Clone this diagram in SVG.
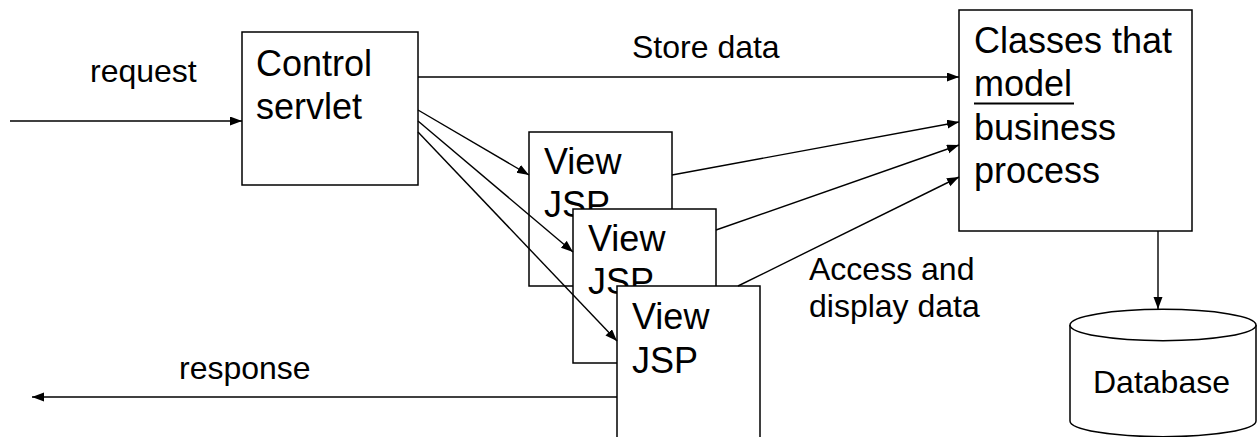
<svg xmlns="http://www.w3.org/2000/svg" width="1257" height="437" viewBox="0 0 1257 437">
  <style>
    .box { fill: #ffffff; stroke: #000000; stroke-width: 1.5; }
    .lbl { font-family: "Liberation Sans", Arial, sans-serif; fill: #000000; }
    .big { font-size: 36px; }
    .mid { font-size: 32px; }
    .wire { fill: none; stroke: #000000; stroke-width: 1.4; }
  </style>
  <defs>
    <marker id="arrow" markerUnits="userSpaceOnUse" markerWidth="13" markerHeight="10" refX="12" refY="4.5" orient="auto">
      <path d="M0,0 L12,4.5 L0,9 Z" fill="#000000"/>
    </marker>
  </defs>

  <rect width="1257" height="437" fill="#ffffff"/>

  <!-- free labels -->
  <g id="labels" class="lbl mid">
    <text x="90" y="82">request</text>
    <text x="632" y="58">Store data</text>
    <text x="809" y="280">Access and</text>
    <text x="809" y="317">display data</text>
    <text x="179" y="379">response</text>
  </g>

  <!-- control servlet -->
  <g id="control-servlet">
    <rect class="box" x="242" y="32" width="176" height="153"/>
    <text class="lbl big" x="256" y="76">Control</text>
    <text class="lbl big" x="256" y="119">servlet</text>
  </g>

  <!-- model classes -->
  <g id="model-classes">
    <rect class="box" x="959" y="10" width="233" height="221"/>
    <text class="lbl big" x="974" y="53">Classes that</text>
    <text class="lbl big" x="974" y="96">model</text>
    <line x1="974" y1="103.5" x2="1074" y2="103.5" stroke="#000000" stroke-width="2"/>
    <text class="lbl big" x="974" y="140">business</text>
    <text class="lbl big" x="974" y="183">process</text>
  </g>

  <!-- database -->
  <g id="database">
    <path class="box" d="M1070,325 L1070,421 A93,15.7 0 0 0 1256,421 L1256,325"/>
    <ellipse class="box" cx="1163" cy="325" rx="93" ry="15.7"/>
    <text class="lbl mid" x="1093" y="393">Database</text>
  </g>

  <!-- stacked view pages -->
  <g id="view-jsp-1">
    <rect class="box" x="529" y="132" width="143" height="154"/>
    <text class="lbl big" x="544" y="174">View</text>
    <text class="lbl big" x="544" y="217">JSP</text>
  </g>
  <g id="view-jsp-2">
    <rect class="box" x="573" y="209" width="143" height="154"/>
    <text class="lbl big" x="588" y="251">View</text>
    <text class="lbl big" x="588" y="294">JSP</text>
  </g>
  <g id="view-jsp-3">
    <rect class="box" x="617" y="286" width="143" height="160"/>
    <text class="lbl big" x="632" y="329">View</text>
    <text class="lbl big" x="632" y="373">JSP</text>
  </g>

  <!-- connectors -->
  <g id="connectors" class="wire">
    <line x1="10" y1="121" x2="242" y2="121" marker-end="url(#arrow)"/>
    <line x1="418" y1="77" x2="959" y2="77" marker-end="url(#arrow)"/>
    <line x1="418" y1="110" x2="529" y2="175" marker-end="url(#arrow)"/>
    <line x1="418" y1="121" x2="573" y2="252" marker-end="url(#arrow)"/>
    <line x1="418" y1="132" x2="617" y2="341" marker-end="url(#arrow)"/>
    <line x1="672" y1="175" x2="959" y2="122" marker-end="url(#arrow)"/>
    <line x1="716" y1="230" x2="959" y2="145" marker-end="url(#arrow)"/>
    <line x1="738" y1="286" x2="959" y2="177" marker-end="url(#arrow)"/>
    <line x1="1158" y1="231" x2="1158" y2="309" marker-end="url(#arrow)"/>
    <line x1="617" y1="397" x2="32" y2="397" marker-end="url(#arrow)"/>
  </g>
</svg>
